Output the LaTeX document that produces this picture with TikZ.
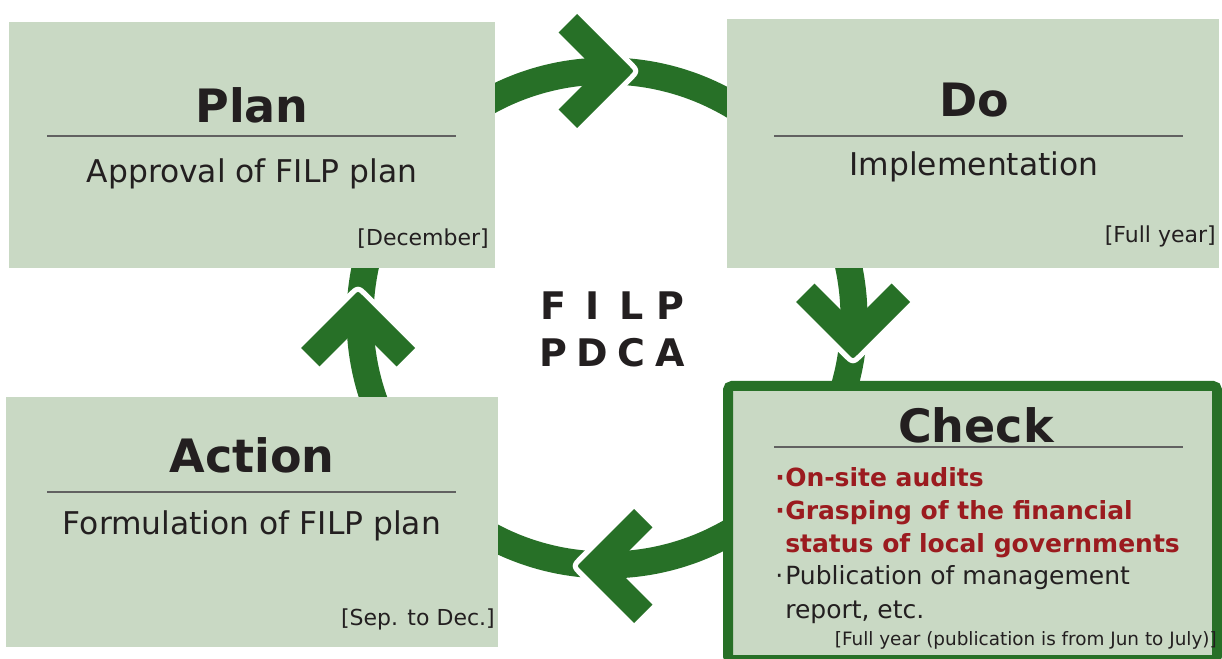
\documentclass[tikz,border=0pt]{standalone}
\usepackage{fontspec}
\setmainfont{DejaVu Sans}
\definecolor{ringgreen}{HTML}{277027}
\definecolor{boxfill}{HTML}{C9D9C4}
\definecolor{txt}{HTML}{231F20}
\definecolor{redtxt}{HTML}{9B1B1F}
\definecolor{rulecol}{HTML}{616161}
\newcommand\spacedletter[1]{\makebox[29.25pt][c]{#1}}
\newcommand\bul{\makebox[7.5pt][l]{·}}
\begin{document}
\begin{tikzpicture}[x=0.75pt,y=-0.75pt,
  box/.style={fill=boxfill, draw=none, rectangle, inner sep=0pt},
  titletext/.style={text=txt, inner sep=0pt, anchor=base, font=\fontsize{34.5}{40}\selectfont\bfseries},
  subtext/.style={text=txt, inner sep=0pt, anchor=base, font=\fontsize{23.5}{28}\selectfont},
  datetext/.style={text=txt, inner sep=0pt, anchor=base east, font=\fontsize{16.5}{20}\selectfont},
  bodytext/.style={text=txt, inner sep=0pt, anchor=base west, font=\fontsize{18.75}{22}\selectfont},
  redbody/.style={bodytext, text=redtxt, font=\fontsize{18.75}{22}\selectfont\bfseries},
  centertext/.style={text=txt, inner sep=0pt, anchor=base, font=\fontsize{28.5}{32}\selectfont\bfseries},
  rulestyle/.style={draw=rulecol, line width=1.3pt},
  ringstyle/.style={draw=ringgreen, line width=20.25pt},
  chev/.pic={
    \draw[white, line width=8pt, line join=round] (-57,-57) -- (-4,-4) .. controls (0,0) .. (-4,4) -- (-57,57);
    \fill[ringgreen] (-4,-4) .. controls (0,0) .. (-4,4) -- (-57,57) -- (-75.4,38.6) -- (-36.8,0) -- (-75.4,-38.6) -- (-57,-57) -- cycle;
  }]
\useasboundingbox (0,0) rectangle (1222,659);
\fill[white] (0,0) rectangle (1222,659);

% ring
\coordinate (ringc) at (607,318);
\draw[ringstyle] (ringc) circle [radius=247];

% chevrons
\pic[rotate=0] (ctop) at (634,71) {chev};
\pic[rotate=-90] (cright) at (853,359) {chev};
\pic[rotate=180] (cbottom) at (577,566) {chev};
\pic[rotate=90] (cleft) at (358,291) {chev};

% boxes
\node[box, minimum width=364.5pt, minimum height=184.5pt] (plan) at (252,145) {};
\node[box, minimum width=369pt, minimum height=186.75pt] (do) at (973,143.5) {};
\node[box, minimum width=369pt, minimum height=187.5pt] (action) at (252,522) {};
\node[box, draw=ringgreen, line width=7.5pt, rounded corners=3pt, minimum width=366.75pt, minimum height=205.5pt] (check) at (972.5,523) {};

% Plan
\node[titletext] (plantitle) at (252,123) {Plan};
\draw[rulestyle] (47,136) -- (456,136);
\node[subtext] (plansub) at (252,183) {Approval of FILP plan};
\node[datetext] (plandate) at (489,246) {[December]};

% Do
\node[titletext] (dotitle) at (974,117) {Do};
\draw[rulestyle] (774,136) -- (1183,136);
\node[subtext] (dosub) at (974,176) {Implementation};
\node[datetext] (dodate) at (1216,243) {[Full year]};

% Action
\node[titletext] (actiontitle) at (252,473) {Action};
\draw[rulestyle] (47,492) -- (456,492);
\node[subtext] (actionsub) at (252,534) {Formulation of FILP plan};
\node[datetext] (actiondate) at (495,625) {[Sep. to Dec.]};

% Check
\node[titletext] (checktitle) at (976,442) {Check};
\draw[rulecol, line width=2pt] (774,447) -- (1183,447);
\node[redbody] (c1) at (775,487) {\bul On-site audits};
\node[redbody] (c2) at (775,519) {\bul Grasping of the financial};
\node[redbody] (c3) at (775,552) {\phantom{\bul}status of local governments};
\node[bodytext] (c4) at (775,584) {\bul Publication of management};
\node[bodytext] (c5) at (775,618) {\phantom{\bul}report, etc.};
\node[text=txt, inner sep=0pt, anchor=base east, font=\fontsize{13.8}{16}\selectfont] (c6) at (1217,645) {[Full year (publication is from Jun to July)]};

% centre
\node[centertext] (filp) at (612,320) {\spacedletter{F}\spacedletter{I}\spacedletter{L}\spacedletter{P}};
\node[centertext] (pdca) at (612,367) {\spacedletter{P}\spacedletter{D}\spacedletter{C}\spacedletter{A}};
\end{tikzpicture}
\end{document}
